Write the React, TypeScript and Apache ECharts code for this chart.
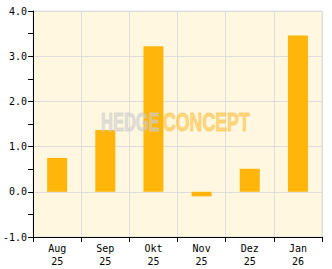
import React, { useEffect, useRef } from "react";
import * as echarts from "echarts";

const categories = ["Aug\n25", "Sep\n25", "Okt\n25", "Nov\n25", "Dez\n25", "Jan\n26"];
const values = [0.75, 1.37, 3.22, -0.1, 0.51, 3.46];
const yMin = -1;
const yMax = 4;
const yInterval = 1;

export default function App() {
  const ref = useRef<HTMLDivElement>(null);
  useEffect(() => {
    if (!ref.current) return;
    const chart = echarts.init(ref.current, null, { renderer: "svg" });
    const font = "DejaVu Sans Mono";
    const wmFont = "bold 25px 'Liberation Sans', Arial, sans-serif";
    chart.setOption({
      animation: false,
      backgroundColor: "#ffffff",
      grid: {
        left: 31,
        right: 10,
        top: 11,
        bottom: 32,
        show: true,
        backgroundColor: "#FFF7E0",
        borderColor: "#dddddd",
        borderWidth: 1,
      },
      xAxis: {
        type: "category",
        data: categories,
        boundaryGap: true,
        axisLine: { onZero: false, lineStyle: { color: "#000", width: 1 } },
        axisTick: { show: true, alignWithLabel: false, length: 5, lineStyle: { color: "#000" } },
        axisLabel: { color: "#000", fontFamily: font, fontSize: 10, lineHeight: 13, margin: 5 },
        splitLine: { show: true, lineStyle: { color: "#dddddd", width: 1 } },
      },
      yAxis: {
        type: "value",
        min: yMin,
        max: yMax,
        interval: yInterval,
        axisLine: { show: true, lineStyle: { color: "#000", width: 1 } },
        axisTick: { show: true, length: 5, lineStyle: { color: "#000" } },
        minorTick: { show: true, splitNumber: 2, length: 5, lineStyle: { color: "#000" } },
        axisLabel: {
          color: "#000",
          fontFamily: font,
          fontSize: 10,
          margin: 6,
          formatter: (v: number) => v.toFixed(1),
        },
        splitLine: { show: true, lineStyle: { color: "#dddddd", width: 1 } },
      },
      series: [
        {
          type: "bar",
          data: values,
          barWidth: 20,
          itemStyle: { color: "#FFB50A" },
          z: 2,
        },
      ],
      graphic: [
        {
          type: "text",
          x: 101,
          y: 110,
          scaleX: 0.66,
          z: 100,
          style: {
            text: "HEDGE",
            fill: "rgba(205,205,205,0.6)",
            stroke: "rgba(205,205,205,0.6)",
            lineWidth: 1,
            font: wmFont,
            textVerticalAlign: "top",
          },
        },
        {
          type: "text",
          x: 163,
          y: 110,
          scaleX: 0.71,
          z: 100,
          style: {
            text: "CONCEPT",
            fill: "rgba(255,185,40,0.5)",
            stroke: "rgba(255,185,40,0.5)",
            lineWidth: 1,
            font: wmFont,
            textVerticalAlign: "top",
          },
        },
      ],
    });
    return () => chart.dispose();
  }, []);
  return <div ref={ref} style={{ width: 332, height: 269, position: "absolute", left: 0, top: 0 }} />;
}
